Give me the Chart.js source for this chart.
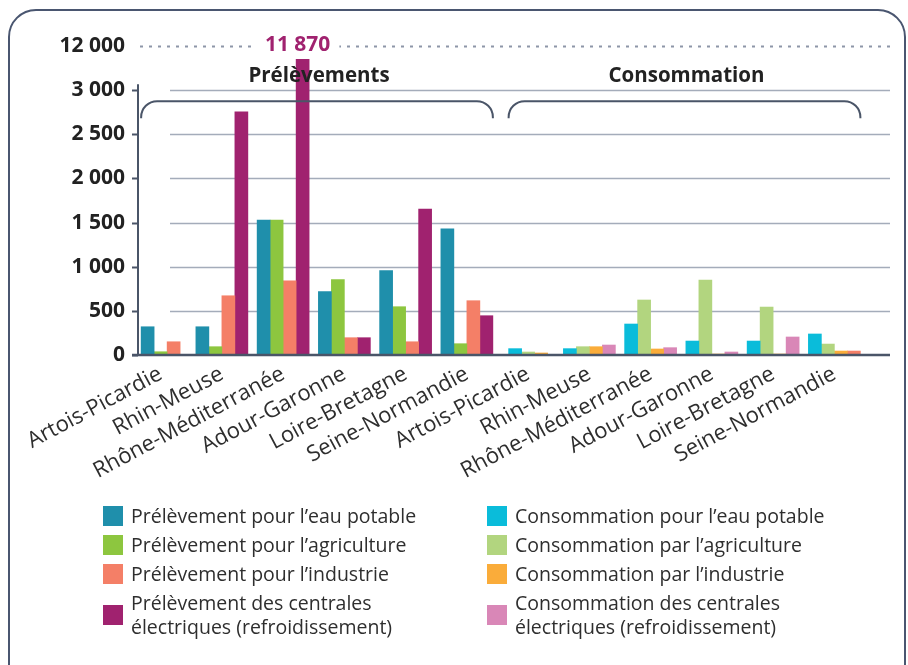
<!DOCTYPE html>
<html lang="fr">
<head>
<meta charset="utf-8">
<script src="https://cdn.jsdelivr.net/npm/chart.js@4.4.1/dist/chart.umd.min.js"></script>
<style>
  html, body { margin: 0; padding: 0; background: #fff; }
  #wrap { position: relative; width: 908px; height: 665px; overflow: hidden; font-family: 'Open Sans', sans-serif; }
  #frame { position: absolute; left: 8px; top: 9px; width: 898px; height: 690px; border: 2px solid #4a5670; border-radius: 28px; box-sizing: border-box; }
  #chart { position: absolute; left: 0; top: 0; }
  .legend { position: absolute; top: 504px; width: 340px; color: #2e2e2e; font-size: 19.5px; line-height: 24px; }
  .legend .item { display: flex; align-items: center; margin-bottom: 5px; }
  .legend .sw { width: 20px; height: 20px; margin-right: 8px; flex: none; }
</style>
</head>
<body>
<div id="wrap">
  <div id="frame"></div>
  <canvas id="chart" width="908" height="665"></canvas>
  <div class="legend" id="legendP" style="left:103px"></div>
  <div class="legend" id="legendC" style="left:487px"></div>
</div>
<script>
  // bassins, repeated for the two groups
  const basins = ['Artois-Picardie', 'Rhin-Meuse', 'Rhône-Méditerranée', 'Adour-Garonne', 'Loire-Bretagne', 'Seine-Normandie'];
  const groupTitles = ['Prélèvements', 'Consommation'];

  // values (millions de m3)
  const prelEauPotable   = [320, 320, 1528, 717, 955, 1430];
  const prelAgriculture  = [37, 94, 1528, 853, 547, 128];
  const prelIndustrie    = [150, 671, 841, 196, 150, 615];
  const prelCentrales    = [null, 2754, 11870, 196, 1653, 445];
  const consoEauPotable  = [72, 72, 351, 158, 158, 238];
  const consoAgriculture = [34, 94, 623, 849, 543, 124];
  const consoIndustrie   = [23, 94, 68, 11, 11, 45];
  const consoCentrales   = [null, 113, 83, 34, 204, 45];

  // broken axis: 0..3000 linear, then one step up to 12 000
  const yStep = 500;
  const breakLow = 3000;
  const breakHigh = 12000;

  const colors = {
    prelEau: '#1f8fab', prelAgri: '#8dc63f', prelInd: '#f47f67', prelCent: '#a0226f',
    consoEau: '#0abcda', consoAgri: '#b2d57f', consoInd: '#faac3a', consoCent: '#d987b7'
  };

  const labels = basins.concat(basins);
  const none = basins.map(() => null);

  function toAxis(v) {
    if (v === null) return null;
    if (v <= breakLow) return v;
    return breakLow + (v - breakLow) / (breakHigh - breakLow) * yStep;
  }
  function fmt(v) {
    return String(v).replace(/\B(?=(\d{3})+(?!\d))/g, ' ');
  }

  const datasets = [
    { label: 'Prélèvement pour l’eau potable', raw: prelEauPotable.concat(none), backgroundColor: colors.prelEau },
    { label: 'Prélèvement pour l’agriculture', raw: prelAgriculture.concat(none), backgroundColor: colors.prelAgri },
    { label: 'Prélèvement pour l’industrie', raw: prelIndustrie.concat(none), backgroundColor: colors.prelInd },
    { label: 'Prélèvement des centrales électriques (refroidissement)', raw: prelCentrales.concat(none), backgroundColor: colors.prelCent },
    { label: 'Consommation pour l’eau potable', raw: none.concat(consoEauPotable), backgroundColor: colors.consoEau },
    { label: 'Consommation par l’agriculture', raw: none.concat(consoAgriculture), backgroundColor: colors.consoAgri },
    { label: 'Consommation par l’industrie', raw: none.concat(consoIndustrie), backgroundColor: colors.consoInd },
    { label: 'Consommation des centrales électriques (refroidissement)', raw: none.concat(consoCentrales),
      // the source colours the last bar like industrial withdrawal
      backgroundColor: c => c.dataIndex === labels.length - 1 ? colors.prelInd : colors.consoCent,
      legendColor: colors.consoCent }
  ];
  datasets.forEach(d => { d.data = d.raw.map(toAxis); });

  const barW = 13;

  const decor = {
    id: 'decor',
    beforeDatasetsDraw(chart) {
      const { ctx, chartArea, scales: { y } } = chart;
      const axisX = chartArea.left + 8;
      const gridL = chartArea.left + 40;
      const gridR = chartArea.right + 25;
      ctx.save();
      // grid
      ctx.strokeStyle = '#a4acba';
      ctx.lineWidth = 1.5;
      for (let v = yStep; v <= breakLow; v += yStep) {
        const py = Math.round(y.getPixelForValue(v)) + 0.5;
        ctx.beginPath(); ctx.moveTo(gridL, py); ctx.lineTo(gridR, py); ctx.stroke();
      }
      // dotted line of the break value
      const pTop = Math.round(y.getPixelForValue(breakLow + yStep)) + 0.5;
      ctx.strokeStyle = '#8d96a8';
      ctx.lineWidth = 2;
      ctx.setLineDash([3, 6]);
      ctx.beginPath(); ctx.moveTo(axisX + 2, pTop); ctx.lineTo(gridR, pTop); ctx.stroke();
      ctx.setLineDash([]);
      // y axis and ticks
      ctx.strokeStyle = '#4a5568';
      ctx.lineWidth = 2;
      const y0 = y.getPixelForValue(0);
      const y3 = y.getPixelForValue(breakLow);
      ctx.beginPath(); ctx.moveTo(axisX, y3 - 6); ctx.lineTo(axisX, y0); ctx.stroke();
      for (let v = 0; v <= breakLow; v += yStep) {
        const py = Math.round(y.getPixelForValue(v)) + 0.5;
        ctx.beginPath(); ctx.moveTo(axisX - 6, py); ctx.lineTo(axisX, py); ctx.stroke();
      }
      ctx.restore();
    },
    afterDatasetsDraw(chart) {
      const { ctx, chartArea, scales: { x, y } } = chart;
      const axisX = chartArea.left + 8;
      const gridR = chartArea.right + 25;
      ctx.save();
      // baseline
      const y0 = y.getPixelForValue(0);
      ctx.strokeStyle = '#4a5568';
      ctx.lineWidth = 2.5;
      ctx.beginPath(); ctx.moveTo(axisX - 6, y0); ctx.lineTo(gridR, y0); ctx.stroke();

      // brackets and group titles
      const yt = y.getPixelForValue(breakLow) + 11;
      const h = 17, r = 16;
      groupTitles.forEach((t, g) => {
        const first = g * basins.length;
        const last = first + basins.length - 1;
        const x0 = x.getPixelForValue(first) - 1.5 * barW;
        const x1 = x.getPixelForValue(last) + 2 * barW;
        ctx.strokeStyle = '#4a5568';
        ctx.lineWidth = 2;
        ctx.beginPath();
        ctx.moveTo(x0, yt + h);
        ctx.arcTo(x0, yt, x0 + r, yt, r);
        ctx.lineTo(x1 - r, yt);
        ctx.arcTo(x1, yt, x1, yt + h, r);
        ctx.lineTo(x1, yt + h);
        ctx.stroke();
        ctx.fillStyle = '#222';
        ctx.font = 'bold 20.5px "Open Sans"';
        ctx.textAlign = 'center';
        ctx.textBaseline = 'middle';
        ctx.fillText(t, (x0 + x1) / 2 + 2, y.getPixelForValue(breakLow) - 14);
      });

      // value label for bars cut by the break
      const pTop = y.getPixelForValue(breakLow + yStep);
      chart.data.datasets.forEach((ds, di) => {
        ds.raw.forEach((v, i) => {
          if (v === null || v <= breakLow) return;
          const bar = chart.getDatasetMeta(di).data[i];
          const txt = fmt(v);
          ctx.font = 'bold 21px "Open Sans"';
          const w = ctx.measureText(txt).width;
          const cx = bar.x - 5;
          ctx.fillStyle = '#fff';
          ctx.fillRect(cx - w / 2 - 9, pTop - 15, w + 18, 28);
          ctx.fillStyle = colors.prelCent;
          ctx.textAlign = 'center';
          ctx.textBaseline = 'middle';
          ctx.fillText(txt, cx, pTop - 1);
        });
      });
      ctx.restore();
    }
  };

  Chart.defaults.font.family = '"Open Sans", sans-serif';
  Chart.defaults.color = '#333';

  new Chart(document.getElementById('chart'), {
    type: 'bar',
    data: { labels: labels, datasets: datasets },
    options: {
      responsive: false,
      animation: false,
      events: [],
      layout: { padding: { top: 46, right: 43, left: 0, bottom: 0 } },
      datasets: { bar: { barThickness: barW, skipNull: true, borderWidth: 0 } },
      plugins: { legend: { display: false }, tooltip: { enabled: false } },
      scales: {
        x: {
          grid: { display: false, drawTicks: false },
          border: { display: false },
          ticks: { autoSkip: false, minRotation: 28, maxRotation: 28, padding: 6, color: '#2e2e2e', font: { size: 22 } },
          afterFit(s) { s.height = 310; }
        },
        y: {
          min: 0,
          max: breakLow + yStep,
          grid: { display: false, drawTicks: false },
          border: { display: false },
          ticks: {
            stepSize: yStep,
            padding: 5,
            color: '#222',
            font: { size: 21, weight: 'bold' },
            callback: v => fmt(v > breakLow ? breakHigh : v)
          },
          afterFit(s) { s.width = 130; }
        }
      }
    },
    plugins: [decor]
  });

  // legend, two columns
  function buildLegend(el, list) {
    list.forEach(ds => {
      const item = document.createElement('div');
      item.className = 'item';
      const sw = document.createElement('span');
      sw.className = 'sw';
      sw.style.background = ds.legendColor || ds.backgroundColor;
      const tx = document.createElement('span');
      tx.textContent = ds.label;
      item.appendChild(sw);
      item.appendChild(tx);
      el.appendChild(item);
    });
  }
  buildLegend(document.getElementById('legendP'), datasets.slice(0, 4));
  buildLegend(document.getElementById('legendC'), datasets.slice(4));
</script>
</body>
</html>
